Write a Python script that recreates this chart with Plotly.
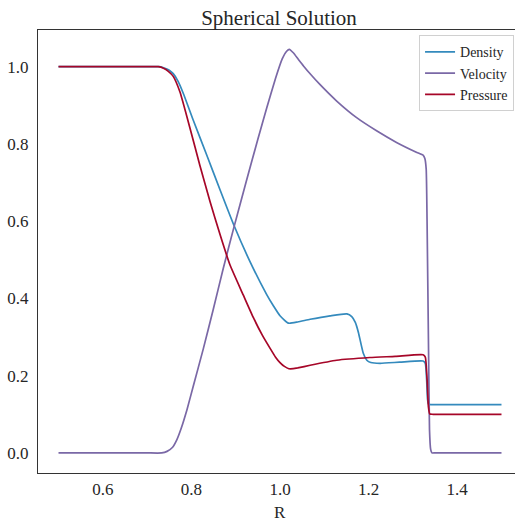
import plotly.graph_objects as go

# Radial profiles of the spherical blast solution
r_density = [0.5, 0.55, 0.6, 0.65, 0.7, 0.728, 0.740, 0.750, 0.759, 0.770,
             0.782, 0.804, 0.835, 0.865, 0.895, 0.932, 0.970, 0.985, 1.0, 1.019,
             1.04, 1.068, 1.113, 1.151, 1.162, 1.170, 1.177, 1.188, 1.196, 1.205,
             1.226, 1.27, 1.323, 1.328, 1.331, 1.333, 1.335, 1.34, 1.36, 1.4,
             1.45, 1.5]
density = [1.0, 1.0, 1.0, 1.0, 1.0, 1.0, 0.996, 0.991, 0.982, 0.962,
           0.930, 0.862, 0.770, 0.680, 0.592, 0.496, 0.410, 0.381, 0.355, 0.336,
           0.339, 0.346, 0.355, 0.360, 0.353, 0.338, 0.312, 0.258, 0.240, 0.234,
           0.232, 0.235, 0.238, 0.232, 0.19, 0.14, 0.127, 0.125, 0.125, 0.125,
           0.125, 0.125]

r_velocity = [0.5, 0.55, 0.6, 0.65, 0.7, 0.733, 0.745, 0.757, 0.767, 0.777,
              0.790, 0.804, 0.827, 0.849, 0.872, 0.895, 0.925, 0.950, 0.970, 0.990,
              1.005, 1.015, 1.021, 1.030, 1.042, 1.053, 1.070, 1.090, 1.128, 1.173,
              1.218, 1.263, 1.309, 1.323, 1.327, 1.330, 1.332, 1.3355, 1.3375, 1.340,
              1.343, 1.35, 1.4, 1.45, 1.5]
velocity = [0.0, 0.0, 0.0, 0.0, 0.0, 0.0, 0.004, 0.014, 0.034, 0.064,
            0.112, 0.172, 0.270, 0.370, 0.478, 0.580, 0.708, 0.812, 0.893, 0.970,
            1.020, 1.040, 1.045, 1.036, 1.018, 1.002, 0.979, 0.954, 0.911, 0.868,
            0.834, 0.804, 0.778, 0.771, 0.762, 0.735, 0.60, 0.25, 0.06, 0.01,
            0.0, 0.0, 0.0, 0.0, 0.0]

r_pressure = [0.5, 0.55, 0.6, 0.65, 0.7, 0.725, 0.737, 0.748, 0.759, 0.774,
              0.797, 0.819, 0.842, 0.865, 0.887, 0.917, 0.940, 0.960, 0.977, 0.990,
              1.0, 1.01, 1.02, 1.03, 1.04, 1.068, 1.128, 1.203, 1.26, 1.323,
              1.328, 1.332, 1.335, 1.338, 1.345, 1.36, 1.4, 1.45, 1.5]
pressure = [1.0, 1.0, 1.0, 1.0, 1.0, 1.0, 0.996, 0.988, 0.975, 0.935,
            0.840, 0.745, 0.651, 0.564, 0.487, 0.409, 0.350, 0.305, 0.272, 0.248,
            0.234, 0.224, 0.218, 0.218, 0.220, 0.227, 0.240, 0.247, 0.250, 0.254,
            0.248, 0.19, 0.12, 0.101, 0.100, 0.100, 0.100, 0.100, 0.100]

x_ticks = [0.6, 0.8, 1.0, 1.2, 1.4]
y_ticks = [0.0, 0.2, 0.4, 0.6, 0.8, 1.0]

SERIF = "Liberation Serif, Times New Roman, serif"
TEXT = "#262626"

fig = go.Figure()
for r, vals, name, color in [
    (r_density, density, "Density", "#348ABD"),
    (r_velocity, velocity, "Velocity", "#7A68A6"),
    (r_pressure, pressure, "Pressure", "#A60628"),
]:
    fig.add_trace(go.Scatter(x=r, y=vals, mode="lines", name=name,
                             line=dict(color=color, width=1.7,
                                       shape="spline", smoothing=0.5)))

fig.update_layout(
    width=515, height=522,
    margin=dict(l=38, r=0, t=30, b=49),
    paper_bgcolor="white", plot_bgcolor="white",
    font=dict(family=SERIF, size=17, color=TEXT),
    title=dict(text="Spherical Solution", x=279 / 515, xanchor="center",
               y=1 - 18 / 522, yanchor="middle",
               font=dict(family=SERIF, size=21, color=TEXT)),
    showlegend=True,
    legend=dict(x=0.998, xanchor="right", y=0.988, yanchor="top",
                bgcolor="white", bordercolor="#d0d0d0", borderwidth=1,
                font=dict(family=SERIF, size=14, color=TEXT), itemwidth=30,
                tracegroupgap=0),
    xaxis=dict(range=[0.4537, 1.5305], tickvals=x_ticks,
               ticktext=[f"{v:.1f}" for v in x_ticks],
               tickfont=dict(family=SERIF, size=17, color=TEXT),
               showgrid=False, zeroline=False, showline=True, mirror=True,
               linecolor="#333333", linewidth=1.2, ticks="", ticklabelstandoff=0),
    yaxis=dict(range=[-0.052, 1.095], tickvals=y_ticks,
               ticktext=[f"{v:.1f}" for v in y_ticks],
               tickfont=dict(family=SERIF, size=17, color=TEXT),
               showgrid=False, zeroline=False, showline=True, mirror=False,
               linecolor="#333333", linewidth=1.2, ticks="", ticklabelstandoff=5),
    annotations=[dict(text="R", xref="x", x=1.0, yref="paper", y=-39 / 443,
                      xanchor="center", yanchor="middle", showarrow=False,
                      font=dict(family=SERIF, size=17, color=TEXT))],
)

fig.write_html("out.html")
